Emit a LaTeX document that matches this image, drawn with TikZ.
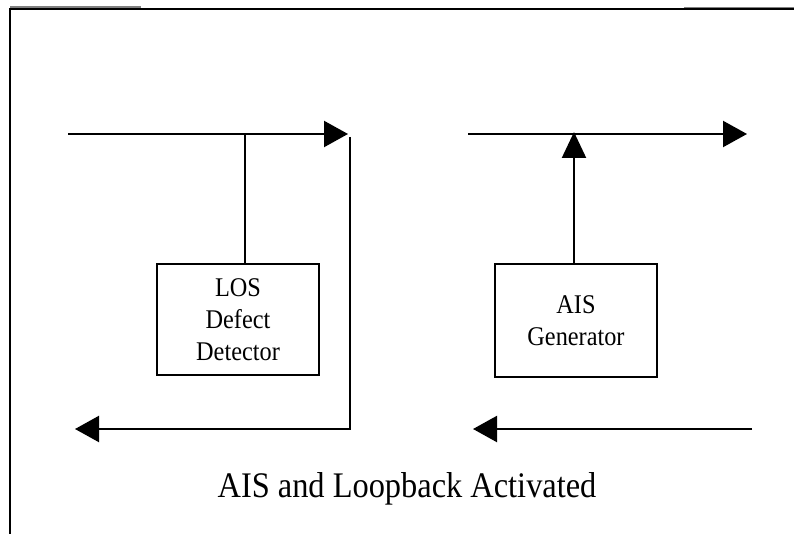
\documentclass[tikz,border=0pt]{standalone}
\usepackage{fontspec}
\setmainfont{Liberation Serif}
\newfontfamily\condserif[FakeStretch=0.9]{Liberation Serif}
\usetikzlibrary{arrows.meta}
\begin{document}
\begin{tikzpicture}[x=1pt,y=-1pt,
  wire/.style={line width=2.2pt},
  hhead/.style={-{Triangle[length=24pt,width=26pt]}},
  vhead/.style={-{Triangle[length=26pt,width=24pt]}},
  blockbox/.style={draw,line width=2pt,align=center,inner sep=0pt,
    font=\condserif\fontsize{27}{31.7}\selectfont},
  frameline/.style={line width=2.8pt}]
\useasboundingbox (0,0) rectangle (794,534);
% frame
\coordinate (fbl) at (10,534);
\coordinate (ftl) at (10,9);
\coordinate (ftr) at (794,9);
\draw[frameline] (fbl) -- (ftl) -- (ftr);
\coordinate (g1a) at (10,7);
\coordinate (g1b) at (141,7);
\coordinate (g2a) at (684,7.5);
\coordinate (g2b) at (794,7.5);
\draw[gray,line width=1.5pt] (g1a) -- (g1b);
\draw[gray,line width=1.5pt] (g2a) -- (g2b);
% boxes
\node[blockbox,minimum width=162pt,minimum height=111pt] (los) at (238,319.5) {LOS\\Defect\\Detector};
\node[blockbox,minimum width=162pt,minimum height=113pt] (ais) at (576,320.5) {AIS\\Generator};
% left side
\coordinate (tl) at (68,134);
\coordinate (tr) at (348,134);
\draw[wire,hhead] (tl) -- (tr);
\coordinate (lostap) at (245,134);
\draw[wire] (lostap) -- (lostap |- los.north);
\coordinate (lbtop) at (350,137);
\coordinate (lbbot) at (350,429);
\coordinate (bl) at (75,429);
\draw[wire,hhead] (lbtop) -- (lbbot) -- (bl);
% right side
\coordinate (rl) at (468,134);
\coordinate (rr) at (747,134);
\draw[wire,hhead] (rl) -- (rr);
\coordinate (aistap) at (574,132);
\draw[wire,vhead] (aistap |- ais.north) -- (aistap);
\coordinate (brr) at (752,429);
\coordinate (brl) at (473,429);
\draw[wire,hhead] (brr) -- (brl);
% title
\node[anchor=base,inner sep=0pt,font=\condserif\fontsize{36}{42}\selectfont] (title) at (407,497) {AIS and Loopback Activated};
\end{tikzpicture}
\end{document}
